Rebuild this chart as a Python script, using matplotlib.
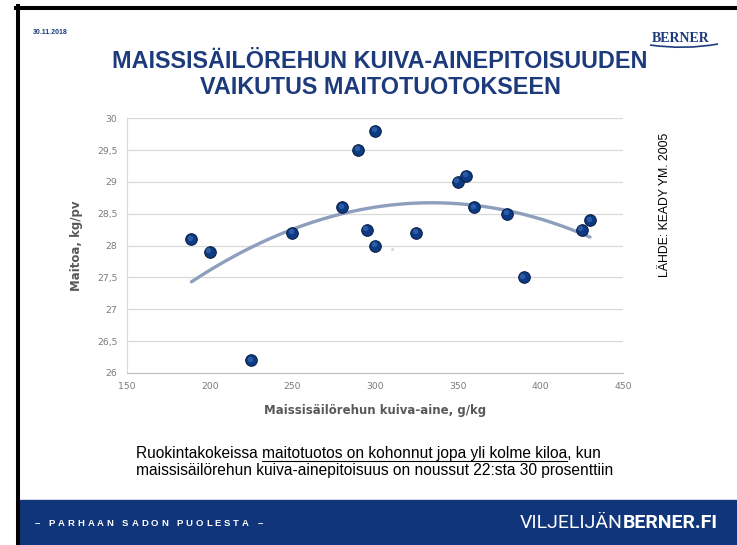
import numpy as np
import matplotlib

matplotlib.use("Agg")
import matplotlib.pyplot as plt
import matplotlib.transforms as mtransforms
from matplotlib.lines import Line2D
from matplotlib.patches import PathPatch, Rectangle
from matplotlib.path import Path
from matplotlib.ticker import FuncFormatter

# values
dry_matter = [189, 200, 225, 250, 280, 290, 295, 300, 300, 325, 350, 355, 360, 380, 390, 425, 430]
milk_yield = [28.1, 27.9, 26.2, 28.2, 28.6, 29.5, 28.25, 29.8, 28.0, 28.2, 29.0, 29.1, 28.6, 28.5, 27.5, 28.25, 28.4]
stray_x = [310]
stray_y = [27.94]
x_ticks = [150, 200, 250, 300, 350, 400, 450]
y_ticks = [26, 26.5, 27, 27.5, 28, 28.5, 29, 29.5, 30]

W, H = 737, 545
NAVY = "#1d3b7b"
BAR = "#11357a"
GRAY_TXT = "#595959"

fig = plt.figure(figsize=(W / 100, H / 100), dpi=100)
renderer = fig.canvas.get_renderer()


def fx(px):
    return px / W


def fy(py):
    return 1 - py / H


def advance(text, **kw):
    probe = fig.text(0, 0, text + "I", **kw)
    ref = fig.text(0, 0, "I", **kw)
    width = probe.get_window_extent(renderer).width - ref.get_window_extent(renderer).width
    probe.remove()
    ref.remove()
    return width


# slide frame
fig.add_artist(Line2D([fx(18), fx(18)], [fy(6), 0], transform=fig.transFigure, color="black", lw=2.9))
fig.add_artist(Line2D([fx(16), 1], [fy(8), fy(8)], transform=fig.transFigure, color="black", lw=2.9))
fig.add_artist(Rectangle((fx(20), 0), 1, 45 / H, transform=fig.transFigure, color=BAR, zorder=0))

# header
fig.text(fx(33), fy(33), "30.11.2018", fontsize=5, fontweight="bold", color=NAVY,
         family="Liberation Sans", va="center")
fig.text(fx(681), fy(38), "BERNER", fontsize=10, fontweight="bold", color=NAVY,
         family="Liberation Serif", ha="center", va="center")
swoosh = Path([(fx(650), fy(45)), (fx(685), fy(50)), (fx(718), fy(44))],
              [Path.MOVETO, Path.CURVE3, Path.CURVE3])
fig.add_artist(PathPatch(swoosh, transform=fig.transFigure, fill=False, ec=NAVY, lw=1.2))
title = dict(fontsize=16.8, fontweight="bold", color=NAVY, family="Liberation Sans",
             ha="center", va="center")
fig.text(fx(380), fy(62), "MAISSISÄILÖREHUN KUIVA-AINEPITOISUUDEN", **title)
fig.text(fx(381), fy(87), "VAIKUTUS MAITOTUOTOKSEEN", **title)

# chart
ax = fig.add_axes([fx(127), fy(373), fx(623) - fx(127), (373 - 118.3) / H])
ax.set_xlim(150, 450)
ax.set_ylim(26, 30)
ax.set_xticks(x_ticks)
ax.set_yticks(y_ticks)
ax.yaxis.set_major_formatter(FuncFormatter(lambda v, _: f"{v:g}".replace(".", ",")))
ax.tick_params(length=0, labelsize=6.7, labelcolor="#7a7a7a")
ax.tick_params(axis="y", pad=7)
ax.tick_params(axis="x", pad=6.5)
ax.grid(axis="y", color="#d9d9d9", lw=0.9)
ax.set_axisbelow(True)
for side in ("top", "right"):
    ax.spines[side].set_visible(False)
ax.spines["left"].set_color("#d9d9d9")
ax.spines["bottom"].set_color("#bfbfbf")

coef = np.polyfit(dry_matter, milk_yield, 2)
xs = np.linspace(min(dry_matter), max(dry_matter), 200)
ax.plot(xs, np.polyval(coef, xs), color="#8e9fbd", lw=2.4, solid_capstyle="round", zorder=2)

ax.scatter(stray_x, stray_y, s=10, marker="*", color="#c8c8c8", lw=0, zorder=2)
ax.scatter(dry_matter, milk_yield, s=70, color="#0c3a84", edgecolor="#061a3f", lw=0.7, zorder=3)
shine = mtransforms.offset_copy(ax.transData, fig=fig, x=-1.0, y=1.2, units="points")
ax.scatter(dry_matter, milk_yield, s=15, color="#4a78bf", alpha=0.55, lw=0, transform=shine, zorder=4)

ax.set_xlabel("Maissisäilörehun kuiva-aine, g/kg", fontsize=8.5, fontweight="bold",
              color=GRAY_TXT, labelpad=9)
ax.set_ylabel("Maitoa, kg/pv", fontsize=8.5, fontweight="bold", color=GRAY_TXT, labelpad=10)

fig.text(fx(665), fy(205), "LÄHDE: KEADY YM. 2005", fontsize=8.8, rotation=90,
         family="Liberation Sans", ha="center", va="center")

# caption with underlined middle part
cap = dict(fontsize=11.2, family="Liberation Sans", color="black")
lead = "Ruokintakokeissa "
marked = "maitotuotos on kohonnut jopa yli kolme kiloa"
fig.text(fx(136), fy(458), lead + marked + ", kun", va="baseline", **cap)
fig.text(fx(136), fy(475), "maissisäilörehun kuiva-ainepitoisuus on noussut 22:sta 30 prosenttiin",
         va="baseline", **cap)
u0 = 136 + advance(lead, **cap)
u1 = u0 + advance(marked, **cap)
fig.add_artist(Line2D([fx(u0), fx(u1)], [fy(460.5), fy(460.5)], transform=fig.transFigure,
                      color="black", lw=0.8))

# footer
foot = dict(fontsize=6.8, fontweight="bold", family="Liberation Sans", color="white")
pos = 35
for ch in "– PARHAAN SADON PUOLESTA –":
    fig.text(fx(pos), fy(524), ch, va="center", **foot)
    pos += advance(ch, **foot) + 2.9

site_a = dict(fontsize=14, family="Roboto", fontweight="normal", color="white")
site_b = dict(fontsize=14, family="Roboto", fontweight="bold", color="white")
right = 718
wb = advance("BERNER.FI", **site_b)
wa = advance("VILJELIJÄN", **site_a)
fig.text(fx(right - wb), fy(523), "BERNER.FI", va="center", **site_b)
fig.text(fx(right - wb - wa), fy(523), "VILJELIJÄN", va="center", **site_a)

fig.savefig("out.png", dpi=100)
